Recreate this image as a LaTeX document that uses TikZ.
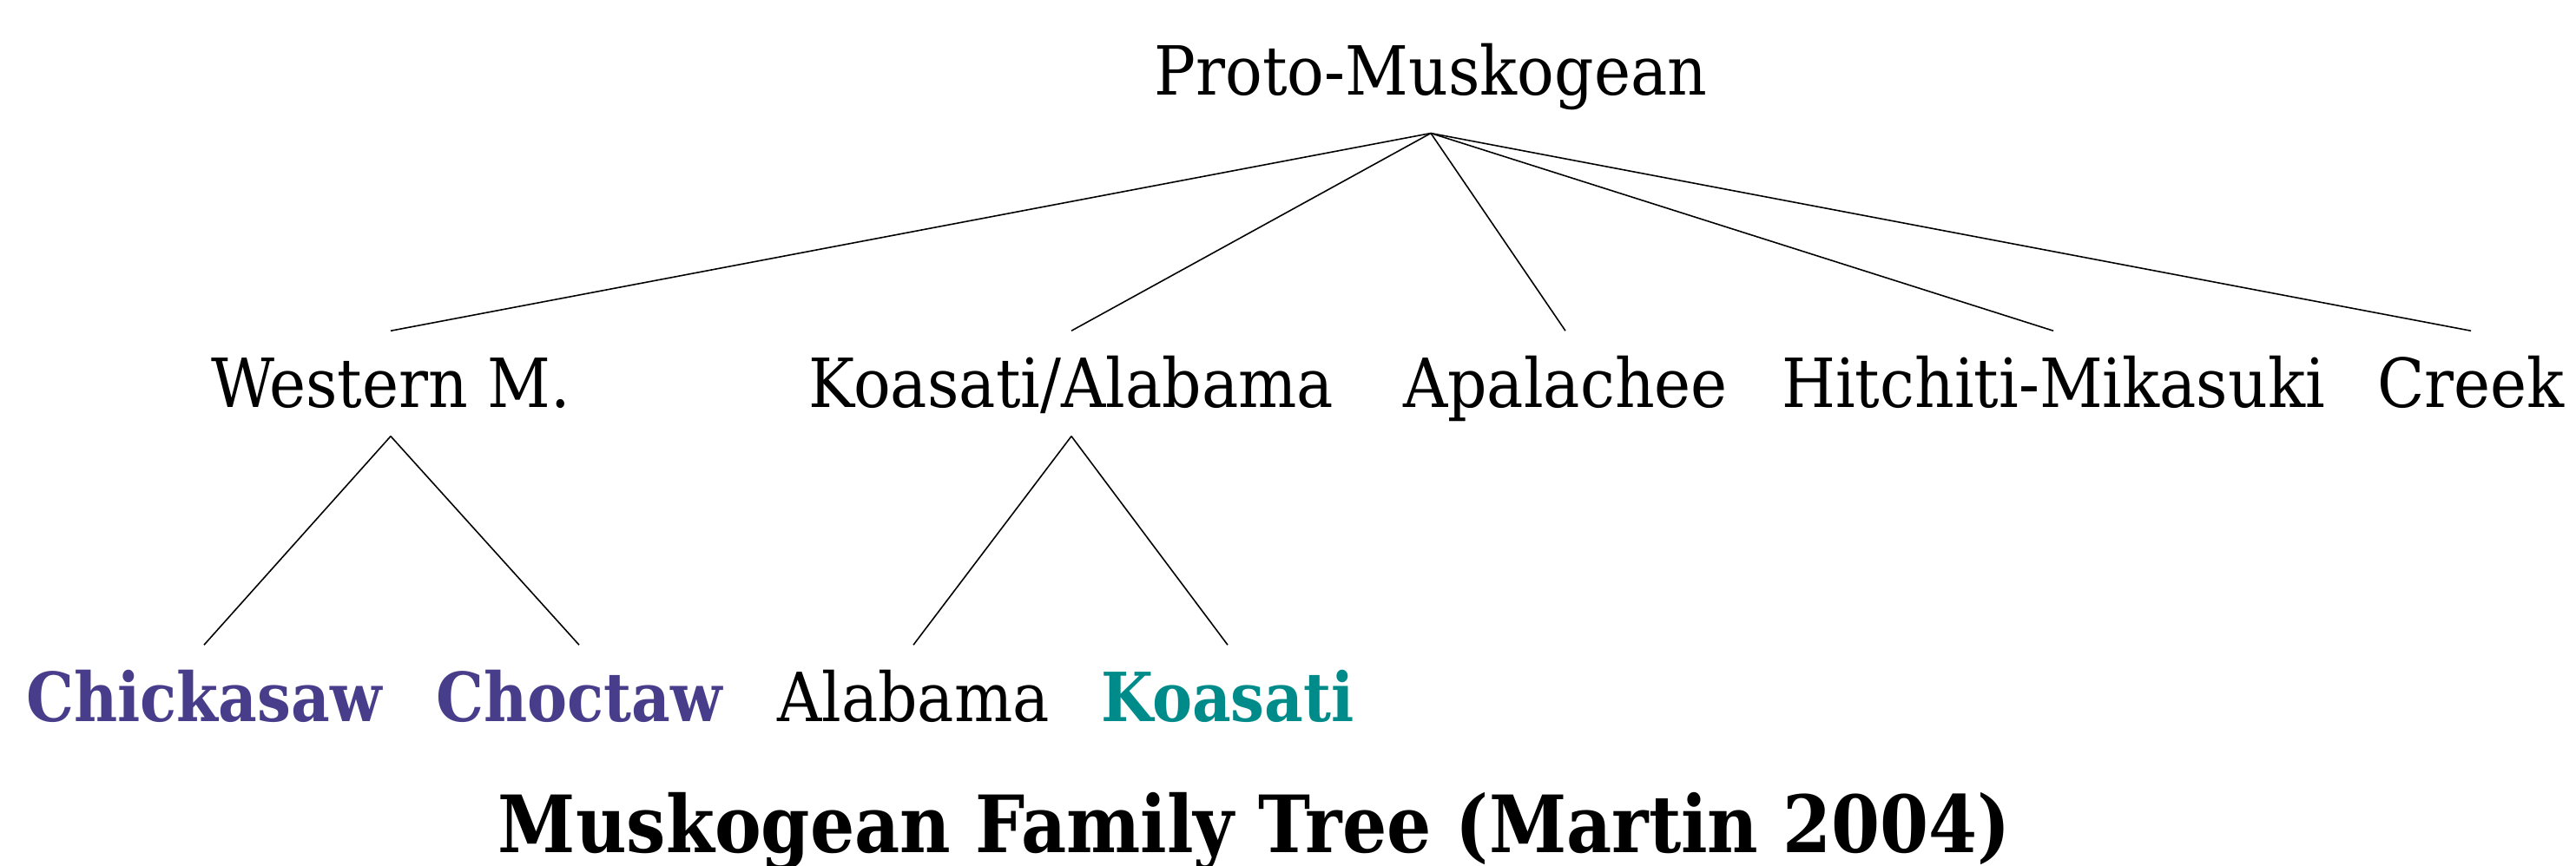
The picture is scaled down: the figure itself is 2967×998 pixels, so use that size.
\documentclass[tikz,border=0pt]{standalone}
\usepackage{fontspec}
\setmainfont[FakeStretch=0.91,BoldFeatures={FakeStretch=0.885}]{DejaVu Serif}
\definecolor{chpurple}{RGB}{72,61,139}
\definecolor{koteal}{RGB}{0,139,139}
\begin{document}
\begin{tikzpicture}[x=0.01cm,y=-0.01cm,
  lang/.style={font=\fontsize{22.2pt}{26pt}\selectfont, anchor=base, inner xsep=0pt, inner ysep=3.98pt, text height=21.06pt, text depth=5.12pt},
  rootnode/.style={lang, text depth=8.2pt},
  boldlang/.style={lang, font=\fontsize{22.2pt}{26pt}\selectfont\bfseries},
  edge/.style={draw=black, line width=0.45pt},
  titlenode/.style={font=\fontsize{25.9pt}{30pt}\selectfont\bfseries, anchor=base, inner sep=0pt}]
\useasboundingbox (0,0) rectangle (2967,998);
\node[rootnode] (root) at (1648,110) {Proto-Muskogean};
\node[lang] (west) at (450,470) {Western M.};
\node[lang] (koal) at (1234,470) {Koasati/Alabama};
\node[lang] (apal) at (1803,470) {Apalachee};
\node[lang] (hitc) at (2365,470) {Hitchiti-Mikasuki};
\node[lang] (creek) at (2846,470) {Creek};
\node[boldlang, text=chpurple] (chick) at (235,832) {Chickasaw};
\node[boldlang, text=chpurple] (choc) at (667,832) {Choctaw};
\node[lang] (alab) at (1052,832) {Alabama};
\node[boldlang, text=koteal] (koas) at (1414,832) {Koasati};
\node[titlenode] (title) at (1445,982) {Muskogean Family Tree (Martin 2004)};
\foreach \c in {west,koal,apal,hitc,creek} \draw[edge] (root.south) -- (\c.north);
\draw[edge] (west.south) -- (chick.north);
\draw[edge] (west.south) -- (choc.north);
\draw[edge] (koal.south) -- (alab.north);
\draw[edge] (koal.south) -- (koas.north);
\end{tikzpicture}
\end{document}
